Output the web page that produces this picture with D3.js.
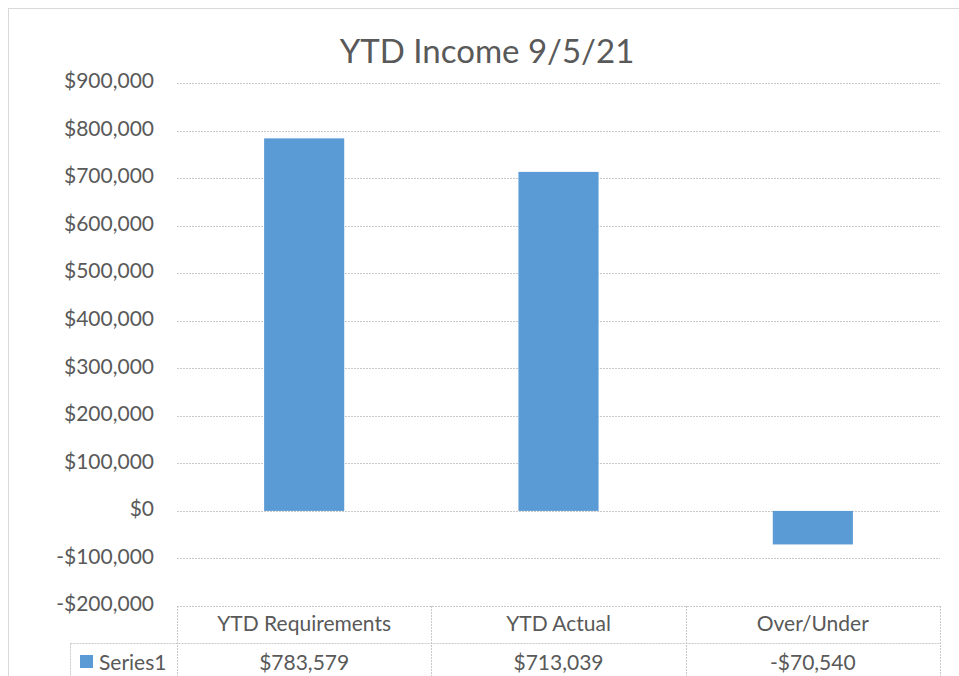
<!DOCTYPE html>
<html><head><meta charset="utf-8">
<script src="https://cdn.jsdelivr.net/npm/d3@7"></script>
<style>body{margin:0;background:#fff;} svg{display:block;font-family:Lato, "Open Sans", sans-serif;}</style>
</head><body>
<svg id="c" width="959" height="676"></svg>
<script>
const title = "YTD Income 9/5/21";
const categories = ["YTD Requirements", "YTD Actual", "Over/Under"];
const seriesName = "Series1";
const values = [783579, 713039, -70540];
const yTicks = [-200000, -100000, 0, 100000, 200000, 300000, 400000, 500000, 600000, 700000, 800000, 900000];

const svg = d3.select("#c");
const W = 959, H = 676;
const plot = {left: 177, right: 940, top: 83, bottom: 606};
const textColor = "#595959", gridColor = "#c9c9c9", barColor = "#5B9BD5";
const fmt = v => d3.format("$,.0f")(v).replace("\u2212", "-");
const fs = 21;

// outer border
svg.append("rect").attr("x", 8.5).attr("y", 8.5).attr("width", W).attr("height", H)
  .attr("fill", "none").attr("stroke", "#d9d9d9");

svg.append("text").attr("x", 487).attr("y", 63).attr("text-anchor", "middle")
  .attr("font-size", 33).attr("fill", textColor).text(title);

const y = d3.scaleLinear().domain([d3.min(yTicks), d3.max(yTicks)]).range([plot.bottom, plot.top]);
const x = d3.scaleBand().domain(categories).range([plot.left, plot.right]).paddingInner(0).paddingOuter(0);

// gridlines
svg.append("g").selectAll("line").data(yTicks).join("line")
  .attr("x1", plot.left).attr("x2", plot.right)
  .attr("y1", d => Math.round(y(d)) + 0.5).attr("y2", d => Math.round(y(d)) + 0.5)
  .attr("stroke", gridColor).attr("stroke-dasharray", "2,1");

// y axis labels
const yAxis = d3.axisLeft(y).tickValues(yTicks).tickFormat(fmt).tickSize(0).tickPadding(0);
const ga = svg.append("g").attr("transform", `translate(154,-2)`).call(yAxis);
ga.select(".domain").remove();
ga.selectAll("text").attr("font-size", fs).attr("fill", textColor).attr("font-family", "Lato, sans-serif");

// bars
const bw = x.bandwidth() * 0.315;
svg.append("g").selectAll("rect").data(values).join("rect")
  .attr("x", (d, i) => x(categories[i]) + x.bandwidth() / 2 - bw / 2)
  .attr("width", bw)
  .attr("y", d => y(Math.max(0, d)))
  .attr("height", d => Math.abs(y(d) - y(0)))
  .attr("fill", barColor);

// data table
const tb = svg.append("g").attr("stroke", gridColor).attr("stroke-dasharray", "2,1").attr("fill", "none");
const rowSep = 643.5, tableBottom = 681.5, legendLeft = 70.5;
tb.append("line").attr("x1", plot.left).attr("x2", plot.right).attr("y1", plot.bottom + 0.5).attr("y2", plot.bottom + 0.5);
tb.append("line").attr("x1", legendLeft).attr("x2", plot.right).attr("y1", rowSep).attr("y2", rowSep);
tb.append("line").attr("x1", legendLeft).attr("x2", plot.right).attr("y1", tableBottom).attr("y2", tableBottom);
const vx = categories.map(c => x(c)).concat([plot.right]);
tb.selectAll("line.v").data(vx).join("line").attr("class", "v")
  .attr("x1", d => Math.round(d) + 0.5).attr("x2", d => Math.round(d) + 0.5)
  .attr("y1", plot.bottom).attr("y2", tableBottom);
tb.append("line").attr("x1", legendLeft).attr("x2", legendLeft).attr("y1", rowSep).attr("y2", tableBottom);

svg.append("g").selectAll("text").data(categories).join("text")
  .attr("x", d => x(d) + x.bandwidth() / 2).attr("y", 630.5)
  .attr("text-anchor", "middle").attr("font-size", fs).attr("fill", textColor).text(d => d);
svg.append("g").selectAll("text").data(values).join("text")
  .attr("x", (d, i) => x(categories[i]) + x.bandwidth() / 2).attr("y", 669.5)
  .attr("text-anchor", "middle").attr("font-size", fs).attr("fill", textColor).text(d => fmt(d));

svg.append("rect").attr("x", 80).attr("y", 655).attr("width", 13).attr("height", 13).attr("fill", barColor);
svg.append("text").attr("x", 99).attr("y", 669.5).attr("font-size", fs).attr("fill", textColor).text(seriesName);
</script>
</body></html>
